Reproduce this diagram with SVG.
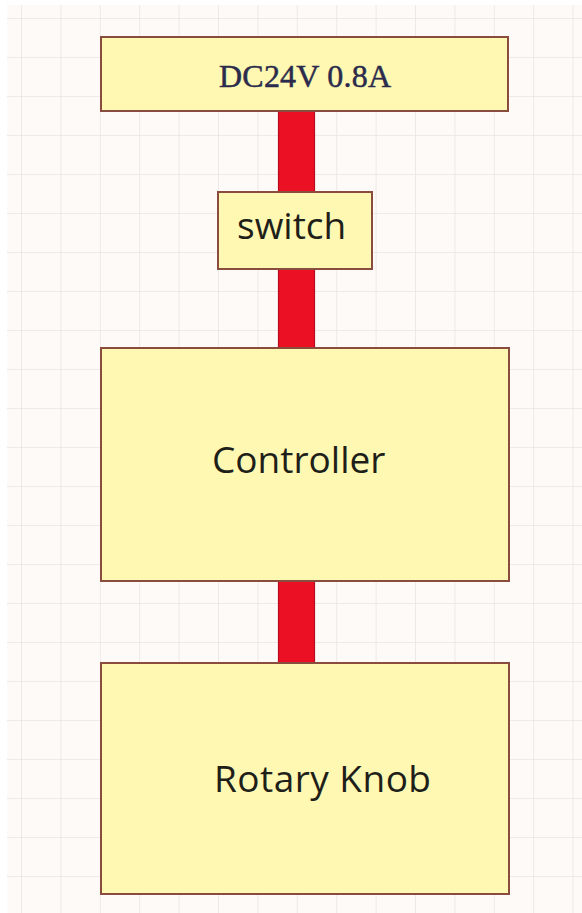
<svg xmlns="http://www.w3.org/2000/svg" width="582" height="913" viewBox="0 0 582 913">
<defs>
<pattern id="grid" x="21" y="18" width="39.4" height="39" patternUnits="userSpaceOnUse">
<rect x="0" y="0" width="39.4" height="39" fill="#fdfaf8"/>
<path d="M0 0V39M0 0H39.4" stroke="#ebe5e3" stroke-width="1.6" fill="none"/>
</pattern>
</defs>
<style>
.box{fill:#fef8b2;stroke:#8a4c3c;stroke-width:2}
.wire{fill:#ec1025;stroke:#b80d1c;stroke-width:1.2}
.lbl{font-family:"Open Sans","Noto Sans",sans-serif;font-size:37px;fill:#1f1f1a}
.ser{font-family:"Liberation Serif","Times New Roman",serif;font-size:32px;fill:#2b2b4c;stroke:#2b2b4c;stroke-width:0.5}
</style>
<rect width="582" height="913" fill="#ffffff"/>
<rect x="7" y="5" width="575" height="908" fill="url(#grid)"/>
<g id="connectors">
<rect class="wire" x="278.5" y="111" width="36" height="81"/>
<rect class="wire" x="278.5" y="269" width="36" height="79"/>
<rect class="wire" x="278.5" y="581" width="36" height="82"/>
</g>
<g id="power">
<rect class="box" x="101" y="37" width="407" height="74"/>
<text class="ser" x="219" y="87" textLength="172">DC24V 0.8A</text>
</g>
<g id="switch">
<rect class="box" x="218" y="192" width="154" height="77"/>
<text class="lbl" x="237" y="239">switch</text>
</g>
<g id="controller">
<rect class="box" x="101" y="348" width="408" height="233"/>
<text class="lbl" x="212" y="473">Controller</text>
</g>
<g id="knob">
<rect class="box" x="101" y="663" width="408" height="231"/>
<text class="lbl" x="214" y="792" textLength="217">Rotary Knob</text>
</g>
</svg>
